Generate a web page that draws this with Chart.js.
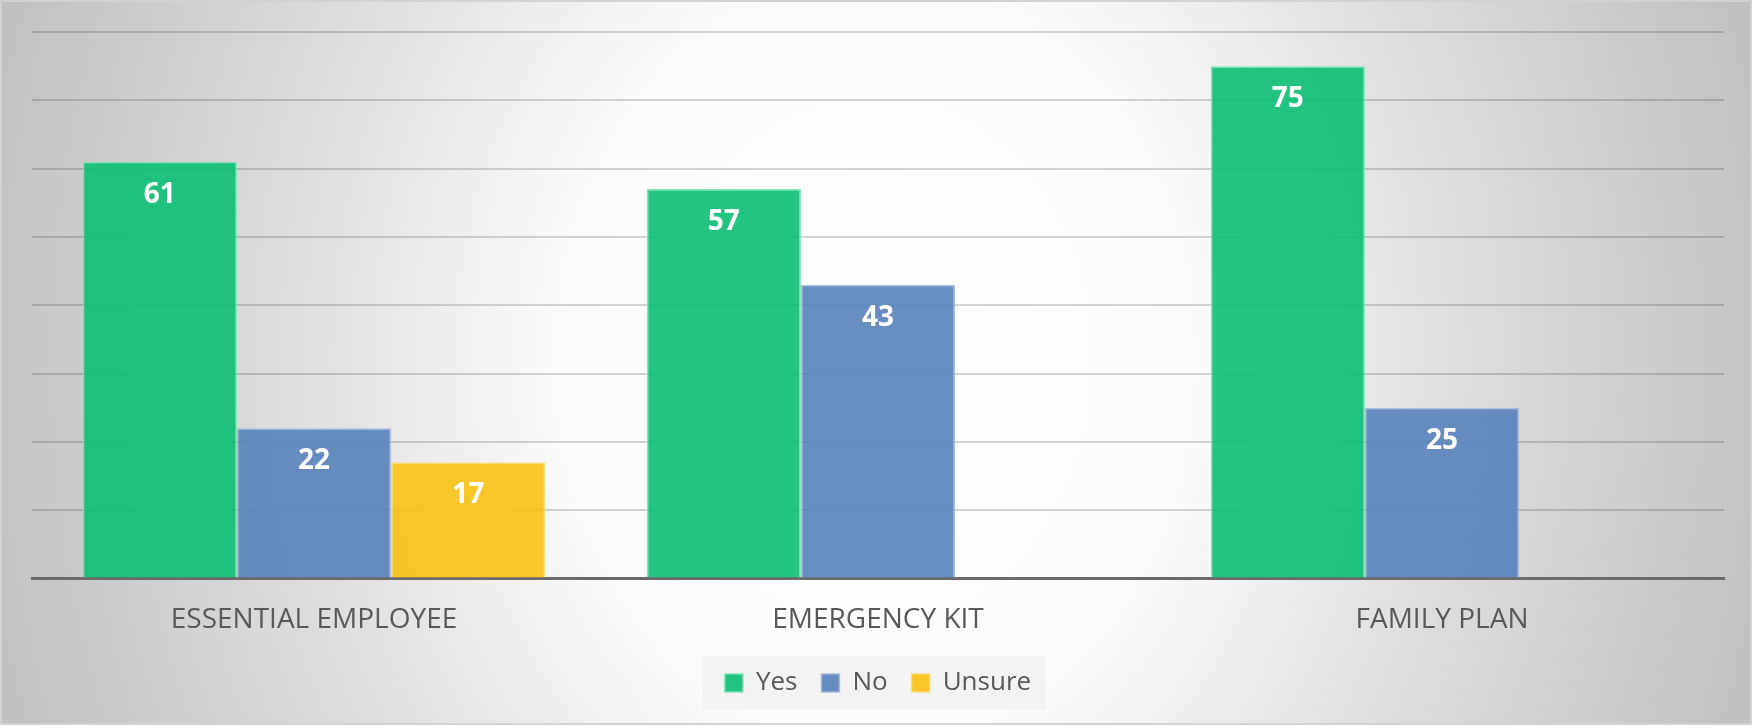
<!DOCTYPE html>
<html>
<head>
<meta charset="utf-8">
<title>Preparedness survey</title>
<script src="https://cdn.jsdelivr.net/npm/chart.js@4.4.1/dist/chart.umd.min.js"></script>
<style>
  html, body { margin: 0; padding: 0; background: #fff; }
  #wrap { width: 1752px; height: 725px; }
</style>
</head>
<body>
<div id="wrap"><canvas id="survey-chart" width="1752" height="725"></canvas></div>
<script>
const categories = ['ESSENTIAL EMPLOYEE', 'EMERGENCY KIT', 'FAMILY PLAN'];
const seriesNames = ['Yes', 'No', 'Unsure'];
const yesValues = [61, 57, 75];
const noValues = [22, 43, 25];
const unsureValues = [17, null, null];
const yMax = 80;
const yStep = 10;

const labelFont = '"Open Sans", "DejaVu Sans", sans-serif';
const textGrey = '#595959';

// grey-to-white spot behind everything, plus the thin frame and the legend panel
const backdrop = {
    id: 'backdrop',
    beforeDraw(chart) {
        const ctx = chart.ctx;
        const w = chart.width;
        const h = chart.height;
        const cx = 875, cy = 360, k = 1100 / 900;
        ctx.save();
        ctx.translate(cx, cy);
        ctx.scale(1, k);
        const g = ctx.createRadialGradient(0, 0, 0, 0, 0, 900);
        g.addColorStop(0, '#ffffff');
        g.addColorStop(0.35, '#fbfbfb');
        g.addColorStop(0.6, '#e2e2e2');
        g.addColorStop(1, '#c2c2c2');
        ctx.fillStyle = g;
        ctx.fillRect(-cx, -cy / k, w, h / k);
        ctx.restore();

        ctx.save();
        ctx.strokeStyle = '#d2d2d2';
        ctx.lineWidth = 2;
        ctx.strokeRect(1, 1, w - 2, h - 2);

        const boxes = chart.legend.legendHitBoxes;
        if (boxes && boxes.length) {
            const first = boxes[0];
            const last = boxes[boxes.length - 1];
            const mid = first.top + first.height / 2;
            ctx.fillStyle = 'rgba(240,240,240,0.75)';
            ctx.fillRect(first.left - 22, mid - 27, last.left + last.width + 14 - (first.left - 22), 54);
        }
        ctx.restore();
    }
};

// white value labels just inside the top of each bar
const barValues = {
    id: 'barValues',
    afterDatasetsDraw(chart) {
        const ctx = chart.ctx;
        ctx.save();
        ctx.font = 'bold 28px ' + labelFont;
        ctx.fillStyle = '#ffffff';
        ctx.textAlign = 'center';
        ctx.textBaseline = 'middle';
        chart.data.datasets.forEach((ds, i) => {
            const meta = chart.getDatasetMeta(i);
            meta.data.forEach((bar, j) => {
                const v = ds.data[j];
                if (v === null || v === undefined) return;
                ctx.fillText(String(v), bar.x, bar.y + 33);
            });
        });
        ctx.restore();
    }
};

const data = {
    labels: categories,
    datasets: [
        {
            label: seriesNames[0],
            data: yesValues,
            backgroundColor: 'rgba(16,191,118,0.92)',
            borderColor: 'rgba(120,225,180,0.9)',
            borderWidth: 1.5
        },
        {
            label: seriesNames[1],
            data: noValues,
            backgroundColor: 'rgba(91,131,188,0.92)',
            borderColor: 'rgba(160,185,220,0.9)',
            borderWidth: 1.5
        },
        {
            label: seriesNames[2],
            data: unsureValues,
            backgroundColor: 'rgba(248,194,23,0.92)',
            borderColor: 'rgba(250,220,120,0.9)',
            borderWidth: 1.5
        }
    ]
};

const config = {
    type: 'bar',
    data: data,
    options: {
        responsive: false,
        devicePixelRatio: 1,
        animation: false,
        categoryPercentage: 0.82,
        barPercentage: 1.0,
        layout: {
            padding: { top: 32, left: 32, right: 28, bottom: 19 }
        },
        scales: {
            x: {
                grid: { display: false, drawTicks: false },
                border: { display: true, color: '#6b6b6b', width: 3 },
                ticks: {
                    color: textGrey,
                    padding: 25,
                    font: { family: labelFont, size: 28 }
                },
                afterFit(scale) {
                    scale.height -= 16;
                }
            },
            y: {
                min: 0,
                max: yMax,
                ticks: { display: false, stepSize: yStep },
                grid: { color: 'rgba(0,0,0,0.16)', lineWidth: 2, drawTicks: false },
                border: { display: false }
            }
        },
        plugins: {
            legend: {
                position: 'bottom',
                labels: {
                    color: textGrey,
                    font: { family: labelFont, size: 26 },
                    boxWidth: 18,
                    boxHeight: 18,
                    padding: 24
                }
            },
            tooltip: { enabled: false }
        }
    },
    plugins: [backdrop, barValues]
};

new Chart(
    document.querySelector('#survey-chart'),
    config
);
</script>
</body>
</html>
